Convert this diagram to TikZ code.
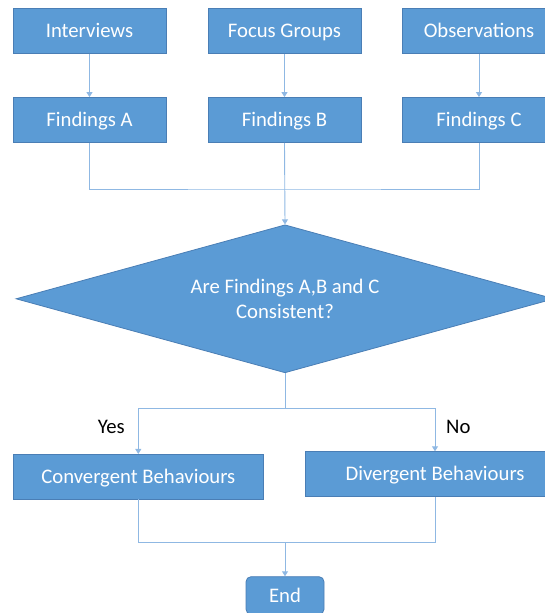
\documentclass[tikz,border=0pt]{standalone}
\usepackage{fontspec}
\setmainfont{Carlito}
\usetikzlibrary{shapes.geometric,arrows.meta}
\definecolor{boxfill}{HTML}{5B9BD5}
\definecolor{boxline}{HTML}{4A7EB5}
\definecolor{wire}{HTML}{8FB8E3}
\tikzset{
  x=1pt, y=-1pt,
  every node/.style={font=\fontsize{20.7}{25}\selectfont},
  oneline/.style={text height=13.4pt, text depth=0pt},
  stepbox/.style={rectangle, draw=boxline, line width=0.8pt, fill=boxfill,
    text=white, inner sep=0pt, oneline, minimum width=153pt, minimum height=45pt},
  decision/.style={diamond, draw=boxline, line width=0.8pt, fill=boxfill,
    text=white, inner sep=0pt, aspect=3.6, align=center,
    minimum width=538pt, minimum height=148pt},
  endbox/.style={rectangle, rounded corners=5pt, draw=boxline, line width=0.8pt,
    fill=boxfill, text=white, inner sep=0pt, oneline, minimum width=78pt, minimum height=37.6pt},
  wirel/.style={draw=wire, line width=0.9pt},
  flow/.style={wirel, -{Triangle[width=6pt,length=5pt]}},
  tag/.style={text=black, oneline}
}
\begin{document}
\begin{tikzpicture}
\useasboundingbox (0,0) rectangle (545,613);
\clip (0,0) rectangle (545,613);

% sources
\node[stepbox] (int) at (89.5,30.8) {Interviews};
\node[stepbox] (foc) at (284.5,30.8) {Focus Groups};
\node[stepbox] (obs) at (479,30.8) {Observations};

% findings
\node[stepbox] (fa) at (89.5,120) {Findings A};
\node[stepbox] (fb) at (284.5,120) {Findings B};
\node[stepbox] (fc) at (479,120) {Findings C};

% decision
\node[decision] (dec) at (285,298.8) {Are Findings A,B and C\\Consistent?};

% outcomes
\node[stepbox, minimum width=250pt, minimum height=44.7pt] (conv) at (138.3,476.7) {Convergent Behaviours};
\node[stepbox, minimum width=260pt, minimum height=45pt] (div) at (435,474.2) {Divergent Behaviours};
\node[endbox] (end) at (285,595.5) {End};

% branch labels
\node[tag] (yes) at (111.3,427) {Yes};
\node[tag] (no) at (458.3,427) {No};

% connector junctions
\coordinate (join) at (284.5,189);
\coordinate (split) at (285,408.3);
\coordinate (merge) at (285,542.3);

% connectors
\draw[flow] (int) -- (fa);
\draw[flow] (foc) -- (fb);
\draw[flow] (obs) -- (fc);
\draw[wirel] (fa.south) |- (join) -| (fc.south);
\draw[flow] (fb.south) -- (dec.north);
\draw[wirel] (dec.south) -- (split);
\draw[flow] (split) -| (conv.north);
\draw[flow] (split) -| (div.north);
\draw[wirel] (conv.south) |- (merge) -| (div.south);
\draw[flow] (merge) -- (end.north);
\end{tikzpicture}
\end{document}
